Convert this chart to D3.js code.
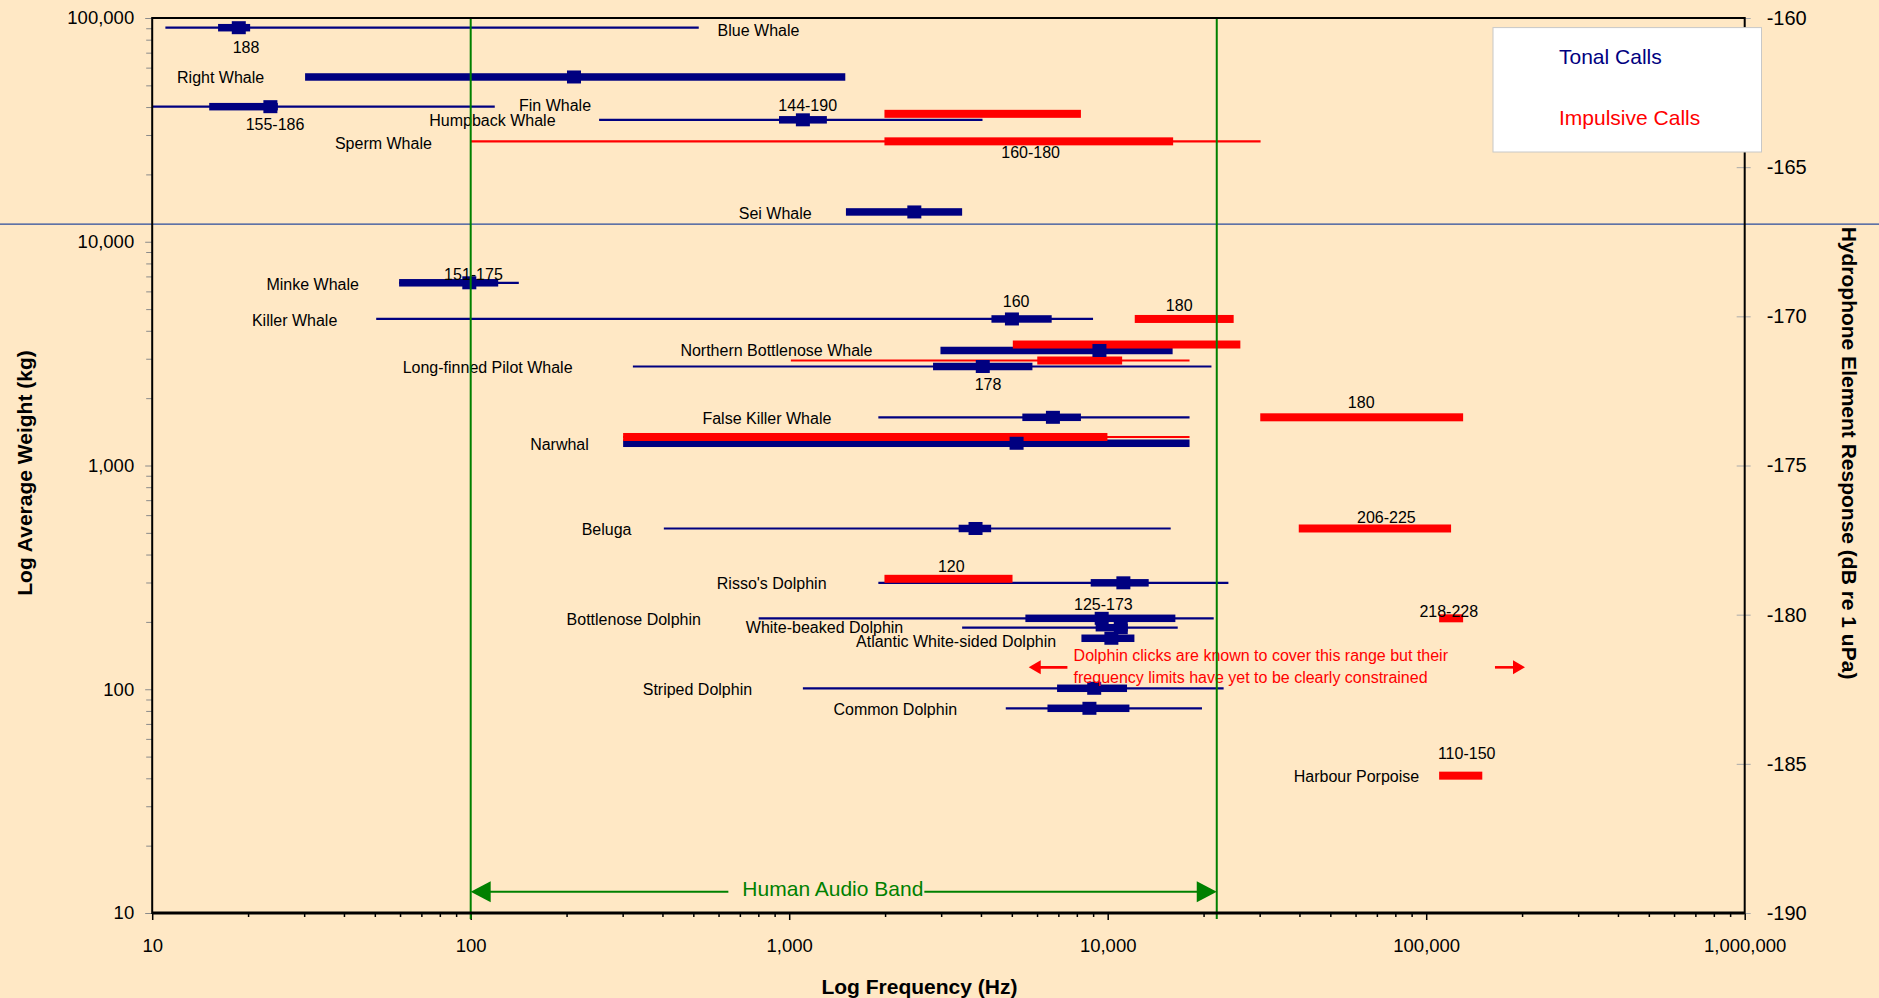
<!DOCTYPE html>
<html>
<head>
<meta charset="utf-8">
<script src="https://cdn.jsdelivr.net/npm/d3@7"></script>
<style>
  html, body { margin: 0; padding: 0; background: #FFE8C5; }
  svg { display: block; }
  text { font-family: "Liberation Sans", Arial, Helvetica, sans-serif; }
</style>
</head>
<body>
<svg id="chart" width="1879" height="998"></svg>
<script>
// ---- Data -------------------------------------------------------------
// Tonal calls: weight (kg), full range min–max (Hz), typical band low–high (Hz), peak (Hz)
const tonalCalls = [
  { species: "Blue Whale",                   weight: 90500, min: 11,   max: 520,   low: 16.1, high: 20.3,  peak: 18.7 },
  { species: "Right Whale",                  weight: 54500, min: null, max: null,  low: 30.2, high: 1500,  peak: 211 },
  { species: "Fin Whale",                    weight: 40150, min: 10,   max: 119,   low: 15.1, high: 24.8,  peak: 23.5 },
  { species: "Humpback Whale",               weight: 35070, min: 253,  max: 4045,  low: 929,  high: 1313,  peak: 1104 },
  { species: "Sei Whale",                    weight: 13590, min: null, max: null,  low: 1507, high: 3491,  peak: 2471 },
  { species: "Minke Whale",                  weight: 6555,  min: 59.6, max: 141.6, low: 59.6, high: 122,   peak: 99 },
  { species: "Killer Whale",                 weight: 4518,  min: 50.5, max: 8995,  low: 4315, high: 6670,  peak: 5004 },
  { species: "Northern Bottlenose Whale",    weight: 3266,  min: null, max: null,  low: 2985, high: 15990, peak: 9420 },
  { species: "Long-finned Pilot Whale",      weight: 2770,  min: 323,  max: 21170, low: 2829, high: 5803,  peak: 4053 },
  { species: "False Killer Whale",           weight: 1642,  min: 1905, max: 18070, low: 5395, high: 8240,  peak: 6730 },
  { species: "Narwhal",                      weight: 1257,  min: null, max: null,  low: 301,  high: 18070, peak: 5175 },
  { species: "Beluga",                       weight: 523,   min: 404,  max: 15770, low: 3404, high: 4306,  peak: 3846 },
  { species: "Risso's Dolphin",              weight: 299,   min: 1905, max: 23930, low: 8843, high: 13450, peak: 11200 },
  { species: "Bottlenose Dolphin",           weight: 207.5, min: 802,  max: 21520, low: 5515, high: 16310, peak: 9575 },
  { species: "White-beaked Dolphin",         weight: 188.4, min: 3491, max: 16590, low: 9165, high: 11560, peak: 10990 },
  { species: "Atlantic White-sided Dolphin", weight: 169,   min: null, max: null,  low: 8270, high: 12130, peak: 10270 },
  { species: "Striped Dolphin",              weight: 101,   min: 1104, max: 23120, low: 6935, high: 11500, peak: 9070 },
  { species: "Common Dolphin",               weight: 82.2,  min: 4786, max: 19770, low: 6470, high: 11700, peak: 8763 }
];

// Impulsive calls: weight (kg), full range min–max (Hz), typical band low–high (Hz)
const impulsiveCalls = [
  { species: "Humpback Whale",          weight: 37300, min: null, max: null,  low: 1991,   high: 8240 },
  { species: "Sperm Whale",             weight: 28100, min: 100,  max: 30200, low: 1991,   high: 16050 },
  { species: "Killer Whale",            weight: 4518,  min: null, max: null,  low: 12160,  high: 24860 },
  { species: "Northern Bottlenose Whale", weight: 3473, min: null, max: null, low: 5036,   high: 26090 },
  { species: "Long-finned Pilot Whale", weight: 2946,  min: 1012, max: 18070, low: 6010,   high: 11100 },
  { species: "False Killer Whale",      weight: 1642,  min: null, max: null,  low: 30130,  high: 130600 },
  { species: "Narwhal",                 weight: 1341,  min: 301,  max: 18070, low: 301,    high: 9980 },
  { species: "Beluga",                  weight: 523,   min: null, max: null,  low: 39800,  high: 119700 },
  { species: "Risso's Dolphin",         weight: 311.6, min: null, max: null,  low: 1991,   high: 5025 },
  { species: "Bottlenose Dolphin",      weight: 207.5, min: null, max: null,  low: 109800, high: 130600 },
  { species: "Harbour Porpoise",        weight: 41.1,  min: null, max: null,  low: 109800, high: 150000 }
];

// Species name labels, placed in data space (centre frequency, weight)
const speciesLabels = [
  { text: "Blue Whale", freq: 801, weight: 87500 },
  { text: "Right Whale", freq: 16.4, weight: 54000 },
  { text: "Fin Whale", freq: 184, weight: 40500 },
  { text: "Humpback Whale", freq: 117, weight: 34700 },
  { text: "Sperm Whale", freq: 53.2, weight: 27400 },
  { text: "Sei Whale", freq: 904, weight: 13350 },
  { text: "Minke Whale", freq: 31.9, weight: 6450 },
  { text: "Killer Whale", freq: 28.0, weight: 4450 },
  { text: "Northern Bottlenose Whale", freq: 912, weight: 3266 },
  { text: "Long-finned Pilot Whale", freq: 113, weight: 2740 },
  { text: "False Killer Whale", freq: 851, weight: 1620 },
  { text: "Narwhal", freq: 190, weight: 1240 },
  { text: "Beluga", freq: 267, weight: 515 },
  { text: "Risso's Dolphin", freq: 881, weight: 296 },
  { text: "Bottlenose Dolphin", freq: 325, weight: 205 },
  { text: "White-beaked Dolphin", freq: 1291, weight: 188 },
  { text: "Atlantic White-sided Dolphin", freq: 3342, weight: 164 },
  { text: "Striped Dolphin", freq: 515, weight: 99.5 },
  { text: "Common Dolphin", freq: 2153, weight: 81.5 },
  { text: "Harbour Porpoise", freq: 60400, weight: 40.8 }
];

// Source level labels (dB), placed in data space
const levelLabels = [
  { text: "188", freq: 19.7, weight: 73800 },
  { text: "155-186", freq: 24.3, weight: 33260 },
  { text: "144-190", freq: 1143, weight: 40640 },
  { text: "160-180", freq: 5727, weight: 25120 },
  { text: "151-175", freq: 102, weight: 7150 },
  { text: "160", freq: 5160, weight: 5380 },
  { text: "180", freq: 16770, weight: 5165 },
  { text: "178", freq: 4210, weight: 2310 },
  { text: "180", freq: 62500, weight: 1910 },
  { text: "206-225", freq: 75000, weight: 585 },
  { text: "120", freq: 3228, weight: 353 },
  { text: "125-173", freq: 9695, weight: 239.8 },
  { text: "218-228", freq: 117700, weight: 223 },
  { text: "110-150", freq: 134000, weight: 51.5 }
];

// Axis ticks
const freqTicks = [10, 100, 1000, 10000, 100000, 1000000];
const weightTicks = [10, 100, 1000, 10000, 100000];
const responseTicks = [-190, -185, -180, -175, -170, -165, -160];

// Reference features
const humanBand = [100, 22000];          // Hz
const humanBandArrowWeight = 12.45;
const humanBandLabelFreq = 1371;
const humanBandLabelWeight = 12.85;
const dividerWeight = 12000;
const clickNote = ["Dolphin clicks are known to cover this range but their",
                   "frequency limits have yet to be clearly constrained"];
const clickNoteFreq = 7815;
const clickNoteWeights = [133.7, 106.3];
const clickArrowWeight = 125.3;
const clickArrowLeft = [7473, 5650];      // tail, tip (Hz)
const clickArrowRight = [164400, 204300]; // tail, tip (Hz)

// ---- Layout -----------------------------------------------------------
const W = 1879, H = 998;
const plot = { left: 152.2, right: 1744.7, top: 18, bottom: 913 };
const NAVY = "#000080", RED = "#FF0000", GREEN = "#008000", BG = "#FFE8C5";

const svg = d3.select("#chart");
svg.append("rect").attr("width", W).attr("height", H).attr("fill", BG);

const x = d3.scaleLog().domain([10, 1e6]).range([plot.left, plot.right]);
const y = d3.scaleLog().domain([10, 1e5]).range([plot.bottom, plot.top]);
const yR = d3.scaleLinear().domain([-190, -160]).range([plot.bottom, plot.top]);

// minor tick values for log axes
function minorTicks(domain) {
  const out = [];
  for (let p = Math.log10(domain[0]); p < Math.log10(domain[1]); p++) {
    for (let k = 2; k <= 9; k++) out.push(k * Math.pow(10, p));
  }
  return out;
}

// ---- Axes -------------------------------------------------------------
const fmt = d3.format(",");
const tickFont = "'Liberation Sans', Arial, sans-serif";

// x axis: minor + major ticks
svg.append("g").attr("transform", `translate(0,${plot.bottom})`)
  .call(d3.axisBottom(x).tickValues(minorTicks([10, 1e6])).tickSize(4).tickFormat(""))
  .call(g => g.select(".domain").remove())
  .call(g => g.selectAll("line").attr("stroke", "#000").attr("stroke-width", 1.5));
svg.append("g").attr("transform", `translate(0,${plot.bottom})`)
  .call(d3.axisBottom(x).tickValues(freqTicks).tickSize(7).tickPadding(19).tickFormat(fmt))
  .call(g => g.select(".domain").remove())
  .call(g => g.selectAll("line").attr("stroke", "#000").attr("stroke-width", 1.5))
  .call(g => g.selectAll("text").attr("font-size", 18.5).attr("fill", "#000")
    .attr("font-family", tickFont));

// left axis
svg.append("g").attr("transform", `translate(${plot.left},0)`)
  .call(d3.axisLeft(y).tickValues(minorTicks([10, 1e5])).tickSize(6).tickFormat(""))
  .call(g => g.select(".domain").remove())
  .call(g => g.selectAll("line").attr("stroke", "#8a8a8a").attr("stroke-width", 1));
svg.append("g").attr("transform", `translate(${plot.left},0)`)
  .call(d3.axisLeft(y).tickValues(weightTicks).tickSize(7).tickPadding(11).tickFormat(fmt))
  .call(g => g.select(".domain").remove())
  .call(g => g.selectAll("line").attr("stroke", "#8a8a8a").attr("stroke-width", 1))
  .call(g => g.selectAll("text").attr("font-size", 18.5).attr("fill", "#000")
    .attr("font-family", tickFont));

// right axis (hydrophone response), hyphen-minus labels
svg.append("g").attr("transform", `translate(${plot.right},0)`)
  .call(d3.axisRight(yR).tickValues(responseTicks).tickSize(6).tickPadding(16)
    .tickFormat(d => String(d)))
  .call(g => g.select(".domain").remove())
  .call(g => g.selectAll("line").attr("x1", -8).attr("stroke", "#aaaaaa").attr("stroke-width", 1))
  .call(g => g.selectAll("text").attr("font-size", 20).attr("fill", "#000")
    .attr("font-family", "'Liberation Serif', 'Times New Roman', serif"));

// ---- Marks ------------------------------------------------------------
const marks = svg.append("g");

// full-range thin lines
marks.selectAll(".tonal-range").data(tonalCalls.filter(d => d.min != null)).join("line")
  .attr("class", "tonal-range")
  .attr("x1", d => x(d.min)).attr("x2", d => x(d.max))
  .attr("y1", d => y(d.weight)).attr("y2", d => y(d.weight))
  .attr("stroke", NAVY).attr("stroke-width", 2.2);
marks.selectAll(".imp-range").data(impulsiveCalls.filter(d => d.min != null)).join("line")
  .attr("class", "imp-range")
  .attr("x1", d => x(d.min)).attr("x2", d => x(d.max))
  .attr("y1", d => y(d.weight)).attr("y2", d => y(d.weight))
  .attr("stroke", RED).attr("stroke-width", 2.2);

// typical-band thick bars
const tonalBarH = 7.5, impBarH = 8;
marks.selectAll(".tonal-band").data(tonalCalls).join("rect")
  .attr("class", "tonal-band")
  .attr("x", d => x(d.low)).attr("width", d => x(d.high) - x(d.low))
  .attr("y", d => y(d.weight) - tonalBarH / 2).attr("height", tonalBarH)
  .attr("fill", NAVY);
marks.selectAll(".imp-band").data(impulsiveCalls).join("rect")
  .attr("class", "imp-band")
  .attr("x", d => x(d.low)).attr("width", d => x(d.high) - x(d.low))
  .attr("y", d => y(d.weight) - impBarH / 2).attr("height", impBarH)
  .attr("fill", RED);

// peak markers
const mW = 14, mH = 13;
marks.selectAll(".peak").data(tonalCalls).join("rect")
  .attr("class", "peak")
  .attr("x", d => x(d.peak) - mW / 2).attr("width", mW)
  .attr("y", d => y(d.weight) - mH / 2).attr("height", mH)
  .attr("fill", NAVY);

// ---- Labels -----------------------------------------------------------
const labels = svg.append("g").attr("font-size", 16).attr("fill", "#000");
labels.selectAll(".sp").data(speciesLabels).join("text")
  .attr("class", "sp")
  .attr("x", d => x(d.freq)).attr("y", d => y(d.weight))
  .attr("text-anchor", "middle").attr("dominant-baseline", "central")
  .text(d => d.text);
labels.selectAll(".lvl").data(levelLabels).join("text")
  .attr("class", "lvl")
  .attr("x", d => x(d.freq)).attr("y", d => y(d.weight))
  .attr("text-anchor", "middle").attr("dominant-baseline", "central")
  .text(d => d.text);

// dolphin click note
const note = svg.append("g").attr("fill", RED);
note.selectAll("text").data(clickNote).join("text")
  .attr("x", x(clickNoteFreq)).attr("y", (d, i) => y(clickNoteWeights[i]))
  .attr("font-size", 16).text(d => d);

function arrow(g, x1, x2, yy, color, width, headLen, headHalf) {
  const dir = Math.sign(x2 - x1);
  g.append("line").attr("x1", x1).attr("x2", x2 - dir * headLen * 0.6)
    .attr("y1", yy).attr("y2", yy).attr("stroke", color).attr("stroke-width", width);
  g.append("polygon")
    .attr("points", `${x2},${yy} ${x2 - dir * headLen},${yy - headHalf} ${x2 - dir * headLen},${yy + headHalf}`)
    .attr("fill", color);
}
arrow(note, x(clickArrowLeft[0]), x(clickArrowLeft[1]), y(clickArrowWeight), RED, 2.6, 12, 7);
arrow(note, x(clickArrowRight[0]), x(clickArrowRight[1]), y(clickArrowWeight), RED, 2.6, 12, 7);

// ---- Reference lines --------------------------------------------------
// weight divider spanning the full width
svg.append("line").attr("x1", 0).attr("x2", W)
  .attr("y1", y(dividerWeight)).attr("y2", y(dividerWeight))
  .attr("stroke", "#2a4b9b").attr("stroke-width", 1.3);

// human audio band limits
svg.selectAll(".band").data(humanBand).join("line")
  .attr("class", "band")
  .attr("x1", d => x(d)).attr("x2", d => x(d))
  .attr("y1", plot.top).attr("y2", plot.bottom + 6)
  .attr("stroke", GREEN).attr("stroke-width", 2);

// plot frame
svg.append("rect")
  .attr("x", plot.left).attr("y", plot.top)
  .attr("width", plot.right - plot.left).attr("height", plot.bottom - plot.top)
  .attr("fill", "none").attr("stroke", "#000").attr("stroke-width", 2);
svg.append("line").attr("x1", plot.left).attr("x2", plot.right)
  .attr("y1", plot.bottom).attr("y2", plot.bottom)
  .attr("stroke", "#000").attr("stroke-width", 3);

// human audio band arrow
const bandG = svg.append("g");
const bandY = y(humanBandArrowWeight);
const bandText = bandG.append("text")
  .attr("x", x(humanBandLabelFreq)).attr("y", y(humanBandLabelWeight))
  .attr("text-anchor", "middle").attr("dominant-baseline", "central")
  .attr("font-size", 21).attr("fill", GREEN).text("Human Audio Band");
const bb = bandText.node().getBBox();
const bx1 = x(humanBand[0]), bx2 = x(humanBand[1]);
bandG.append("line").attr("x1", bx1 + 12).attr("x2", bb.x - 14)
  .attr("y1", bandY).attr("y2", bandY).attr("stroke", GREEN).attr("stroke-width", 2);
bandG.append("line").attr("x1", bb.x + bb.width + 1).attr("x2", bx2 - 12)
  .attr("y1", bandY).attr("y2", bandY).attr("stroke", GREEN).attr("stroke-width", 2);
bandG.append("polygon")
  .attr("points", `${bx1},${bandY} ${bx1 + 20},${bandY - 10.5} ${bx1 + 20},${bandY + 10.5}`)
  .attr("fill", GREEN);
bandG.append("polygon")
  .attr("points", `${bx2},${bandY} ${bx2 - 20},${bandY - 10.5} ${bx2 - 20},${bandY + 10.5}`)
  .attr("fill", GREEN);

// ---- Legend -----------------------------------------------------------
const legend = svg.append("g");
legend.append("rect").attr("x", 1493).attr("y", 27.6).attr("width", 268.5).attr("height", 124.4)
  .attr("fill", "#fff").attr("stroke", "#c8c8c8").attr("stroke-width", 1);
legend.append("text").attr("x", 1559).attr("y", 56).attr("dominant-baseline", "central")
  .attr("font-size", 21).attr("fill", NAVY).text("Tonal Calls");
legend.append("text").attr("x", 1559).attr("y", 117.4).attr("dominant-baseline", "central")
  .attr("font-size", 21).attr("fill", RED).text("Impulsive Calls");

// ---- Axis titles ------------------------------------------------------
svg.append("text").attr("x", (plot.left + plot.right) / 2 - 29).attr("y", 986)
  .attr("text-anchor", "middle").attr("dominant-baseline", "central")
  .attr("font-size", 21).attr("font-weight", "bold").text("Log Frequency (Hz)");
svg.append("text").attr("transform", "translate(24,473) rotate(-90)")
  .attr("text-anchor", "middle").attr("dominant-baseline", "central")
  .attr("font-size", 21).attr("font-weight", "bold").text("Log Average Weight (kg)");
svg.append("text").attr("transform", "translate(1849,453) rotate(90)")
  .attr("text-anchor", "middle").attr("dominant-baseline", "central")
  .attr("font-size", 21).attr("font-weight", "bold").text("Hydrophone Element Response (dB re 1 uPa)");
</script>
</body>
</html>
